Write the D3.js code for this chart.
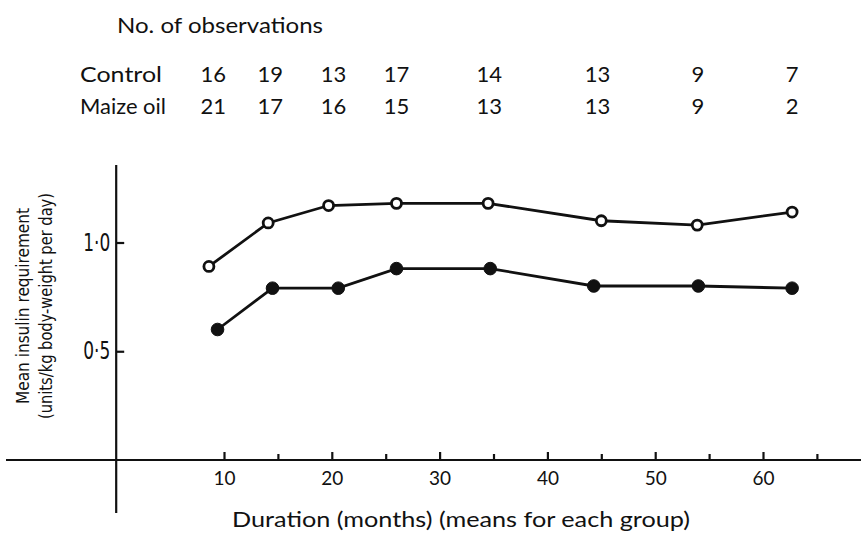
<!DOCTYPE html>
<html>
<head>
<meta charset="utf-8">
<title>Insulin requirement</title>
<style>
body { margin: 0; background: #fff; }
svg { display: block; }
text { fill: #111; font-family: Lato, "Open Sans", sans-serif; }
.line { fill: none; stroke: #111; stroke-width: 2.8px; }
.axisline { stroke: #111; stroke-width: 2.2px; }
.narrow { font-family: "Liberation Sans Narrow", "DejaVu Sans Condensed", Lato, sans-serif; }
</style>
</head>
<body>
<script src="https://cdn.jsdelivr.net/npm/d3@7"></script>
<script>

// mean duration (months) and mean insulin requirement
var controlMonths  = [8.6, 14.1, 19.7, 26.0, 34.5, 45.0, 53.9, 62.7];
var controlInsulin = [0.89, 1.09, 1.17, 1.18, 1.18, 1.10, 1.08, 1.14];
var maizeMonths    = [9.4, 14.5, 20.6, 26.0, 34.7, 44.3, 54.0, 62.7];
var maizeInsulin   = [0.60, 0.79, 0.79, 0.88, 0.88, 0.80, 0.80, 0.79];

// no. of observations per group
var controlObs = [16, 19, 13, 17, 14, 13, 9, 7];
var maizeObs   = [21, 17, 16, 15, 13, 13, 9, 2];

var xMajorTicks = [10, 20, 30, 40, 50, 60];
var xMinorTicks = [15, 25, 35, 45, 55, 65];
var yTicks = [0.5, 1.0];

var width = 861,
    height = 539;

var svg = d3.select("body").append("svg")
    .attr("width", width)
    .attr("height", height);

var x = d3.scaleLinear().domain([0, 60]).range([116.2, 763]);
var y = d3.scaleLinear().domain([0, 1]).range([460, 242.5]);

// table of observations at the top
svg.append("text")
    .attr("x", 117).attr("y", 33)
    .attr("textLength", 206)
    .attr("lengthAdjust", "spacingAndGlyphs")
    .style("font-size", "21px")
    .text("No. of observations");

var rows = [
  {label: "Control", counts: controlObs, y: 82, len: 82},
  {label: "Maize oil", counts: maizeObs, y: 114, len: 86}
];

rows.forEach(function(r) {
  svg.append("text")
      .attr("x", 80).attr("y", r.y)
      .attr("textLength", r.len)
      .attr("lengthAdjust", "spacingAndGlyphs")
      .style("font-size", "22px")
      .text(r.label);
  svg.append("g").selectAll("text")
      .data(r.counts)
      .enter().append("text")
      .attr("x", function(d, i) { return x((controlMonths[i] + maizeMonths[i]) / 2); })
      .attr("y", r.y)
      .attr("text-anchor", "middle")
      .style("font-size", "22px")
      .text(function(d) { return d; });
});

// axes lines (long, like the original drawing)
svg.append("line").attr("class", "axisline")
    .attr("x1", 6).attr("x2", width)
    .attr("y1", y(0)).attr("y2", y(0));
svg.append("line").attr("class", "axisline")
    .attr("x1", x(0)).attr("x2", x(0))
    .attr("y1", 165).attr("y2", 513);

var xAxis = svg.append("g")
    .attr("transform", "translate(0," + y(0) + ")")
    .call(d3.axisBottom(x).tickValues(xMajorTicks).tickSizeInner(-8).tickSizeOuter(0).tickPadding(12));
xAxis.select(".domain").remove();
xAxis.selectAll(".tick line").attr("stroke", "#111").attr("stroke-width", 2.2);
xAxis.selectAll(".tick text")
    .attr("fill", "#111")
    .style("font-family", "Lato, sans-serif")
    .style("font-size", "19px");

var xMinor = svg.append("g")
    .attr("transform", "translate(0," + y(0) + ")")
    .call(d3.axisBottom(x).tickValues(xMinorTicks).tickSizeInner(-6).tickSizeOuter(0).tickFormat(""));
xMinor.select(".domain").remove();
xMinor.selectAll(".tick line").attr("stroke", "#111").attr("stroke-width", 2.2);

var yAxis = svg.append("g")
    .attr("transform", "translate(" + x(0) + ",0)")
    .call(d3.axisLeft(y).tickValues(yTicks).tickSizeInner(-8).tickSizeOuter(0).tickPadding(6)
      .tickFormat(function(d) { return d.toFixed(1).replace(".", "\u00b7"); }));
yAxis.select(".domain").remove();
yAxis.selectAll(".tick line").attr("stroke", "#111").attr("stroke-width", 2.2);
yAxis.selectAll(".tick text")
    .attr("fill", "#111")
    .attr("class", "narrow")
    .attr("textLength", 27)
    .attr("lengthAdjust", "spacingAndGlyphs")
    .style("font-size", "24px");

// axis titles
svg.append("text")
    .attr("x", 232).attr("y", 527)
    .attr("textLength", 458)
    .attr("lengthAdjust", "spacingAndGlyphs")
    .style("font-size", "21px")
    .text("Duration (months) (means for each group)");

var ylab = svg.append("g").attr("transform", "translate(0,306) rotate(-90)");
ylab.append("text")
    .attr("class", "narrow")
    .attr("x", 0).attr("y", 29)
    .attr("text-anchor", "middle")
    .attr("textLength", 196)
    .attr("lengthAdjust", "spacingAndGlyphs")
    .style("font-size", "18px")
    .text("Mean insulin requirement");
ylab.append("text")
    .attr("class", "narrow")
    .attr("x", 0).attr("y", 52)
    .attr("text-anchor", "middle")
    .attr("textLength", 226)
    .attr("lengthAdjust", "spacingAndGlyphs")
    .style("font-size", "18px")
    .text("(units/kg body-weight per day)");

// series
var series = [
  {months: controlMonths, values: controlInsulin, open: true},
  {months: maizeMonths, values: maizeInsulin, open: false}
];

var line = d3.line()
    .x(function(d) { return x(d[0]); })
    .y(function(d) { return y(d[1]); });

series.forEach(function(s) {
  var pts = s.months.map(function(m, i) { return [m, s.values[i]]; });
  svg.append("path")
      .datum(pts)
      .attr("class", "line")
      .attr("d", line);
  svg.append("g").selectAll("circle")
      .data(pts)
      .enter().append("circle")
      .attr("cx", function(d) { return x(d[0]); })
      .attr("cy", function(d) { return y(d[1]); })
      .attr("r", s.open ? 5 : 6.3)
      .style("fill", s.open ? "#fff" : "#111")
      .style("stroke", "#111")
      .style("stroke-width", s.open ? 2.8 : 1);
});

</script>
</body>
</html>
